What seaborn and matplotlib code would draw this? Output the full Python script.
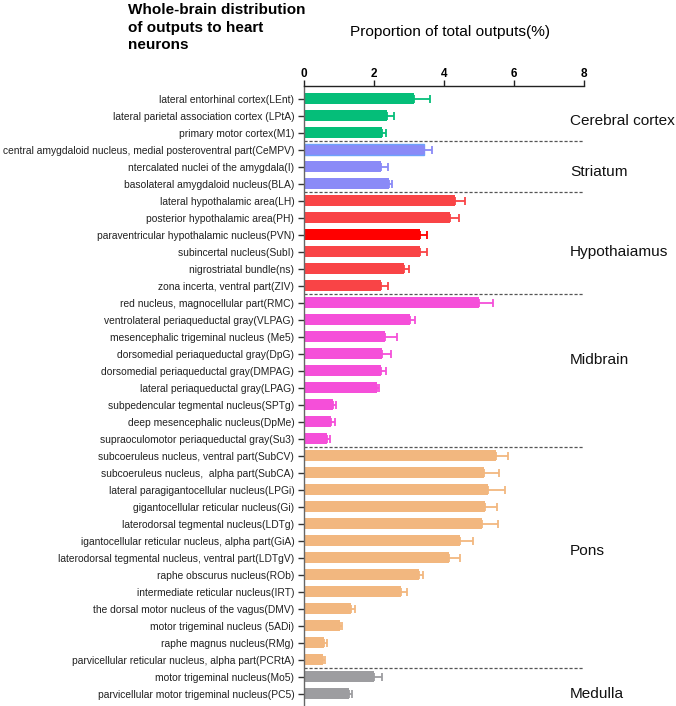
import matplotlib
matplotlib.use("Agg")
import matplotlib.pyplot as plt
import seaborn as sns
import pandas as pd

regions = [
    "lateral entorhinal cortex(LEnt)",
    "lateral parietal association cortex (LPtA)",
    "primary motor cortex(M1)",
    "central amygdaloid nucleus, medial posteroventral part(CeMPV)",
    "ntercalated nuclei of the amygdala(I)",
    "basolateral amygdaloid nucleus(BLA)",
    "lateral hypothalamic area(LH)",
    "posterior hypothalamic area(PH)",
    "paraventricular hypothalamic nucleus(PVN)",
    "subincertal nucleus(SubI)",
    "nigrostriatal bundle(ns)",
    "zona incerta, ventral part(ZIV)",
    "red nucleus, magnocellular part(RMC)",
    "ventrolateral periaqueductal gray(VLPAG)",
    "mesencephalic trigeminal nucleus (Me5)",
    "dorsomedial periaqueductal gray(DpG)",
    "dorsomedial periaqueductal gray(DMPAG)",
    "lateral periaqueductal gray(LPAG)",
    "subpedencular tegmental nucleus(SPTg)",
    "deep mesencephalic nucleus(DpMe)",
    "supraoculomotor periaqueductal gray(Su3)",
    "subcoeruleus nucleus, ventral part(SubCV)",
    "subcoeruleus nucleus,  alpha part(SubCA)",
    "lateral paragigantocellular nucleus(LPGi)",
    "gigantocellular reticular nucleus(Gi)",
    "laterodorsal tegmental nucleus(LDTg)",
    "igantocellular reticular nucleus, alpha part(GiA)",
    "laterodorsal tegmental nucleus, ventral part(LDTgV)",
    "raphe obscurus nucleus(ROb)",
    "intermediate reticular nucleus(IRT)",
    "the dorsal motor nucleus of the vagus(DMV)",
    "motor trigeminal nucleus (5ADi)",
    "raphe magnus nucleus(RMg)",
    "parvicellular reticular nucleus, alpha part(PCRtA)",
    "motor trigeminal nucleus(Mo5)",
    "parvicellular motor trigeminal nucleus(PC5)",
]

means = [3.14, 2.36, 2.24,
         3.43, 2.19, 2.44,
         4.30, 4.16, 3.31, 3.31, 2.86, 2.20,
         5.01, 3.04, 2.30, 2.23, 2.19, 2.08, 0.83, 0.78, 0.65,
         5.49, 5.14, 5.25, 5.16, 5.09, 4.47, 4.14, 3.28, 2.77, 1.34, 1.02, 0.56, 0.53,
         2.01, 1.28]

errors = [0.46, 0.21, 0.11,
          0.24, 0.22, 0.08,
          0.30, 0.27, 0.19, 0.19, 0.13, 0.20,
          0.40, 0.13, 0.36, 0.25, 0.14, 0.07, 0.07, 0.10, 0.08,
          0.35, 0.43, 0.48, 0.34, 0.44, 0.35, 0.32, 0.12, 0.18, 0.11, 0.06, 0.09, 0.06,
          0.21, 0.08]

group_names = ["Cerebral cortex", "Striatum", "Hypothaiamus", "Midbrain", "Pons", "Medulla"]
group_sizes = [3, 3, 6, 9, 13, 2]
group_label_pos = [1.29, 4.29, 9.0, 15.35, 26.6, 35.0]

colors = (["#05BE79"] * 3 + ["#8A8AF7"] * 3 +
          ["#F94446"] * 2 + ["#FF0000"] + ["#F94446"] * 3 +
          ["#F54FD9"] * 9 + ["#F2B77F"] * 13 + ["#9D9DA0"] * 2)

df = pd.DataFrame({"region": regions, "value": means})

fig = plt.figure(figsize=(6.76, 7.06), dpi=100)
ax = fig.add_axes([304 / 676, 0.0, 280 / 676, 1 - 86 / 706])

sns.barplot(data=df, x="value", y="region", hue="region", palette=colors,
            legend=False, orient="h", width=0.64, ax=ax, saturation=1,
            errorbar=None, linewidth=0)

# CeMPV bar outline in lighter blue
ax.patches[3].set_edgecolor("#6EA3FA")
ax.patches[3].set_linewidth(1.0)

for i, (m, e, c) in enumerate(zip(means, errors, colors)):
    ax.errorbar(m, i, xerr=[[0], [e]], fmt="none", ecolor=c, elinewidth=1.3,
                capsize=2.6, capthick=1.3)

# group separators
cum = 0
for s in group_sizes[:-1]:
    cum += s
    ax.axhline(cum - 0.5, xmin=0, xmax=0.995, color="#555555", lw=0.9,
               ls=(0, (2.5, 1.5)))

ax.set_xlim(0, 8)
ax.set_ylim(35.72, -0.76)
ax.xaxis.tick_top()
ax.set_xticks([0, 2, 4, 6, 8])
ax.set_xticklabels(["0", "2", "4", "6", "8"], fontsize=8.5, fontweight="bold",
                   family="Liberation Sans")
ax.tick_params(axis="x", direction="out", length=4.0, width=1.0, pad=0.5,
               color="#222222")
ax.tick_params(axis="y", direction="out", length=4, width=1.0, pad=3,
               color="#333333", labelsize=7.35, labelcolor="#222222")
for lab in ax.get_yticklabels():
    lab.set_family("Liberation Sans")
ax.set_xlabel("")
ax.set_ylabel("")
for side in ["right", "bottom"]:
    ax.spines[side].set_visible(False)
ax.spines["top"].set_linewidth(1.0)
ax.spines["top"].set_color("#222222")
ax.spines["left"].set_linewidth(1.0)
ax.spines["left"].set_color("#666666")

for name, ypos in zip(group_names, group_label_pos):
    disp = ax.transData.transform((0, ypos))
    fy = fig.transFigure.inverted().transform(disp)[1]
    fig.text(570 / 676, fy, name, ha="left", va="center", fontsize=11.1,
             family="Liberation Sans", color="#111111")

fig.text(128 / 676, 1 - 3 / 706, "Whole-brain distribution\nof outputs to heart\nneurons",
         ha="left", va="top", fontsize=11, fontweight="bold",
         family="Liberation Sans", linespacing=1.34)
fig.text(449.5 / 676, 1 - 32 / 706, "Proportion of total outputs(%)",
         ha="center", va="center", fontsize=11.1, family="Liberation Sans")

fig.savefig("out.png", dpi=100)
